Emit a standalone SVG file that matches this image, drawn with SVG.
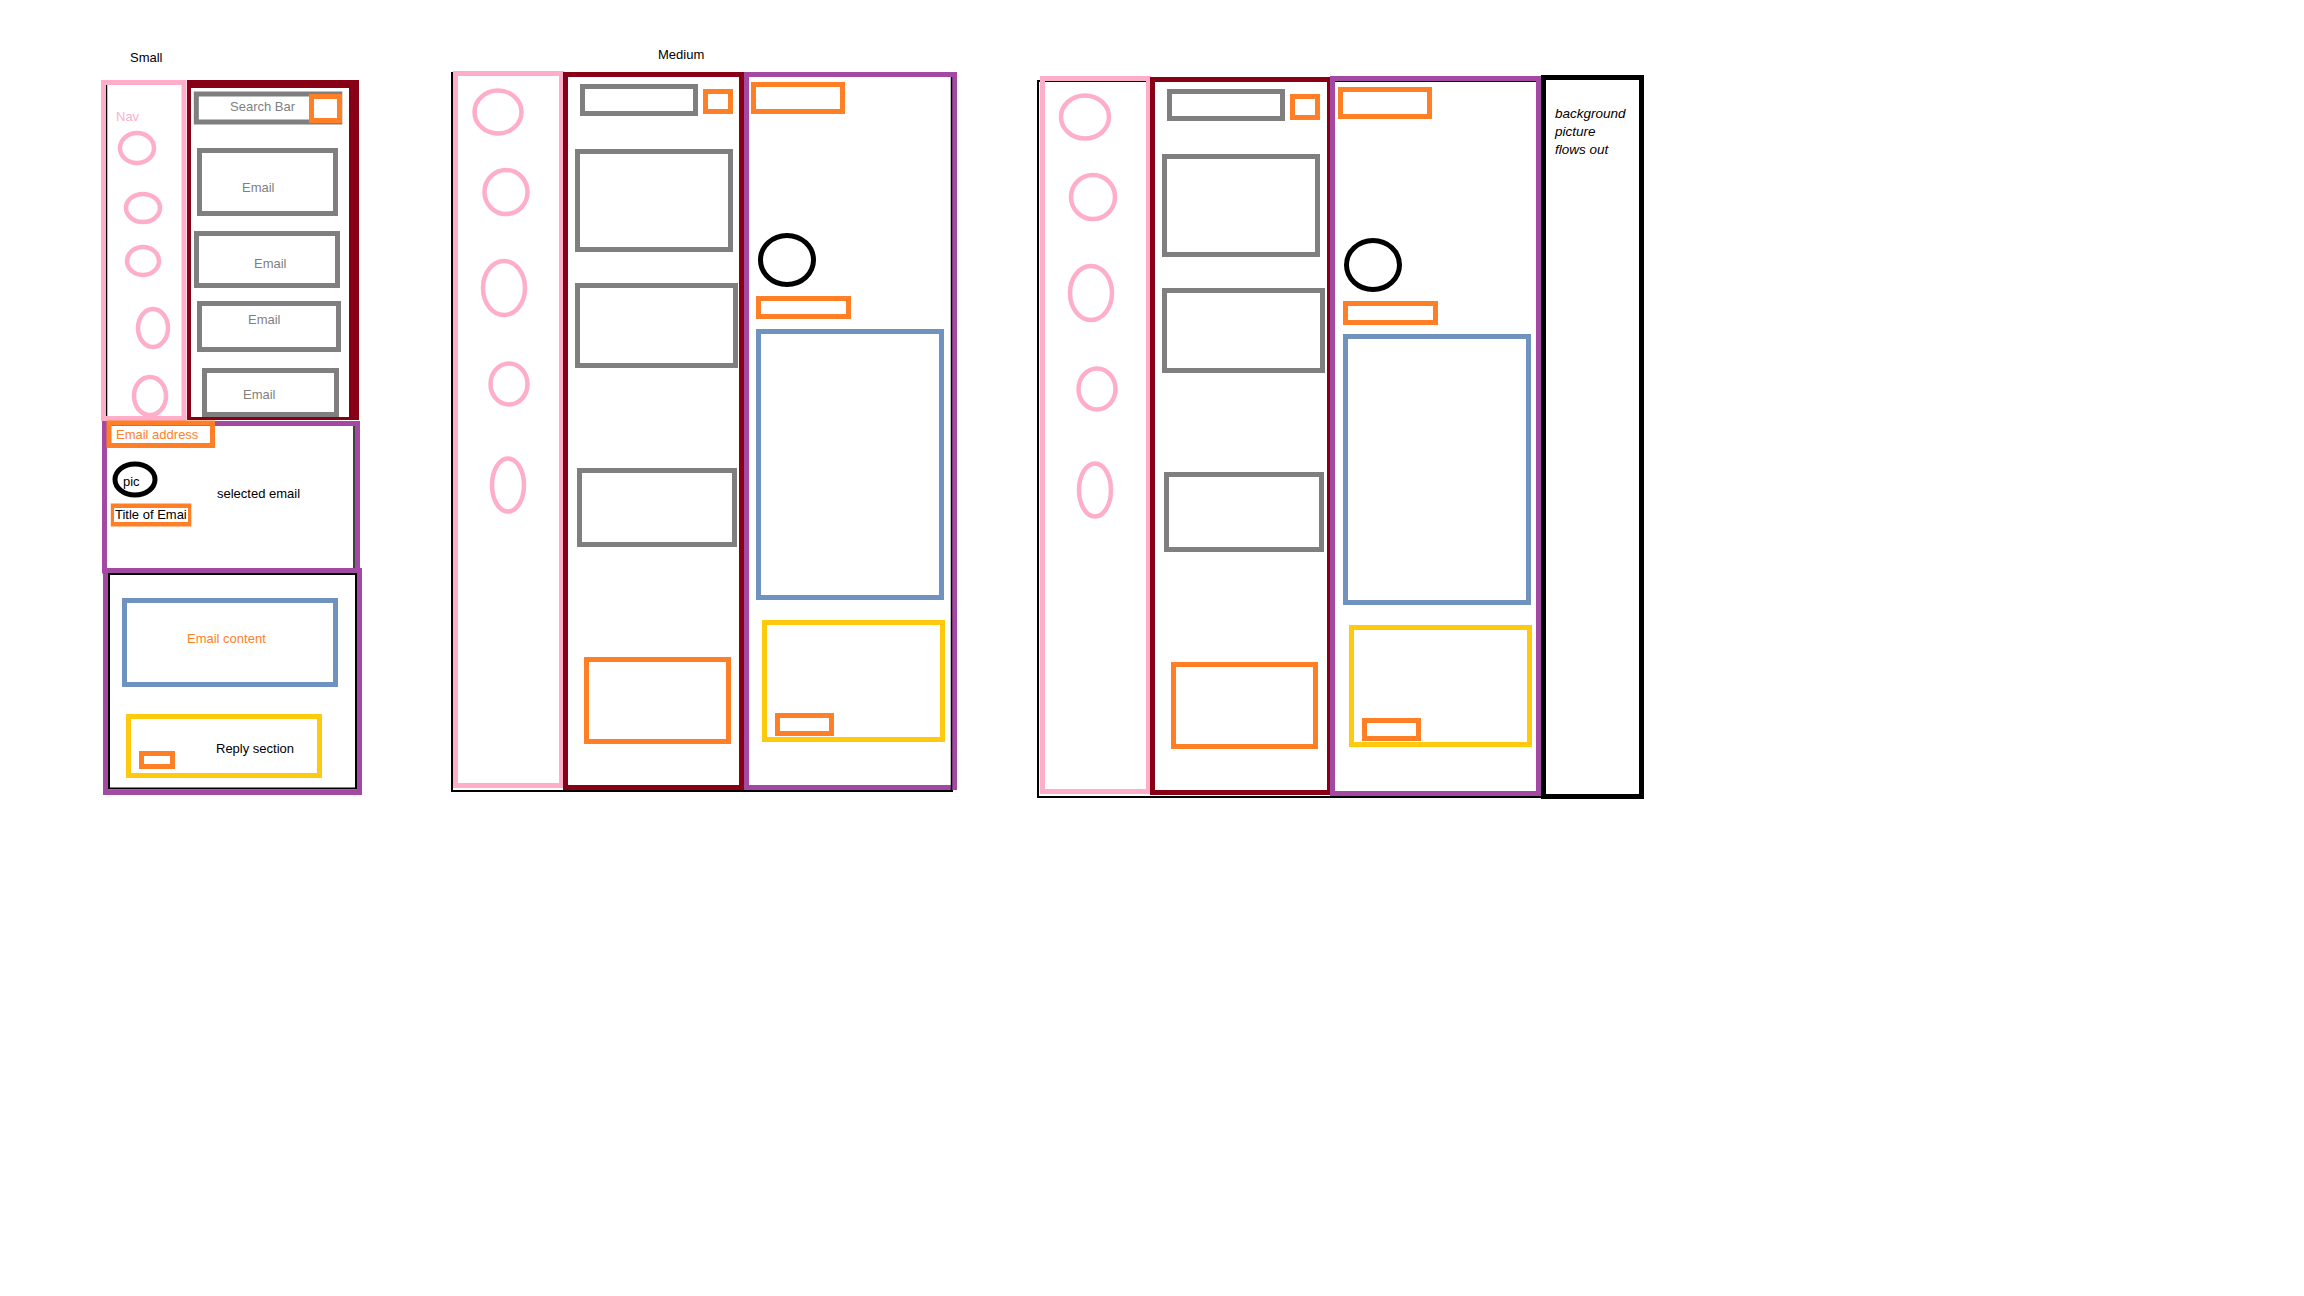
<svg xmlns="http://www.w3.org/2000/svg" width="2304" height="1296" viewBox="0 0 2304 1296">
<style>
text{font-family:"Liberation Sans",Arial,sans-serif;font-size:13px}
.pk{fill:none;stroke:#ffaec9;stroke-width:5}
.dr{fill:none;stroke:#880015;stroke-width:5}
.gy{fill:none;stroke:#7f7f7f;stroke-width:5}
.or{fill:none;stroke:#ff7f27;stroke-width:5}
.pu{fill:none;stroke:#a349a4;stroke-width:5}
.bl{fill:none;stroke:#7092be;stroke-width:5}
.ye{fill:none;stroke:#ffc90e;stroke-width:5}
.bk{fill:none;stroke:#000;stroke-width:5}
.bkt{fill:none;stroke:#000;stroke-width:2}
.cp{fill:none;stroke:#ffaec9;stroke-width:4.5}
.tg{fill:#7f7f7f}
.to{fill:#ff7f27}
.tk{fill:#000}
.it{font-style:italic;font-size:13.5px}
</style>
<rect width="2304" height="1296" fill="#fff"/>

<g id="small">
  <text id="small-title" x="130" y="62" class="tk">Small</text>
  <g id="small-nav">
    <line x1="106.5" y1="85" x2="106.5" y2="420" stroke="#000" stroke-width="1.5"/>
    <rect class="pk" x="103.5" y="82.5" width="80.5" height="336"/>
    <text x="116" y="121" fill="#ffaec9">Nav</text>
    <ellipse class="cp" cx="137" cy="148" rx="17" ry="15"/>
    <ellipse class="cp" cx="143" cy="208" rx="17" ry="14"/>
    <ellipse class="cp" cx="143" cy="261" rx="16" ry="14"/>
    <ellipse class="cp" cx="153" cy="328" rx="15" ry="19"/>
    <ellipse class="cp" cx="150" cy="396" rx="16" ry="19"/>
  </g>
  <g id="small-list">
    <path d="M187 80H359V420H187Z M191 88V417H349V88Z" fill="#880015" fill-rule="evenodd"/>
    <rect class="gy" x="196.3" y="94" width="143.5" height="28" stroke-width="4.5"/>
    <text x="230" y="111" class="tg">Search Bar</text>
    <rect class="or" x="311.5" y="96.5" width="28" height="24"/>
    <rect class="gy" x="199.5" y="150.5" width="136" height="63"/>
    <text x="242" y="192" class="tg">Email</text>
    <rect class="gy" x="196.5" y="233.5" width="141" height="52"/>
    <text x="254" y="268" class="tg">Email</text>
    <rect class="gy" x="199.5" y="303.5" width="139" height="46"/>
    <text x="248" y="324" class="tg">Email</text>
    <rect class="gy" x="204.5" y="370.5" width="132" height="44"/>
    <text x="243" y="399" class="tg">Email</text>
  </g>
  <g id="small-selected">
    <rect class="pu" x="104.5" y="423.5" width="253" height="147.5"/>
    <line x1="354" y1="426" x2="354" y2="568" stroke="#000" stroke-width="1.5"/>
    <rect class="or" x="109" y="423" width="103.5" height="22.5" stroke-width="4.5"/>
    <text x="116" y="439" class="to">Email address</text>
    <ellipse class="bk" cx="135" cy="479.5" rx="20" ry="15.5" stroke-width="4"/>
    <text x="123" y="486" class="tk">pic</text>
    <rect class="or" x="113.3" y="506" width="75.5" height="18" stroke-width="4.5"/>
    <rect x="114" y="508" width="74" height="14" fill="#fff"/>
    <text x="115" y="519" class="tk">Title of Emai</text>
    <text x="217" y="498" class="tk">selected email</text>
  </g>
  <g id="small-content">
    <rect class="pu" x="105.5" y="570.5" width="254" height="222"/>
    <rect class="bkt" x="109" y="574" width="247" height="214.5" stroke-width="2.5"/>
    <rect class="bl" x="124.5" y="600.5" width="211" height="84"/>
    <text x="187" y="643" class="to">Email content</text>
    <rect class="ye" x="128.5" y="716.5" width="191" height="59"/>
    <text x="216" y="753" class="tk">Reply section</text>
    <rect class="or" x="141.5" y="753.5" width="31" height="13"/>
  </g>
</g>

<g id="medium">
  <text id="medium-title" x="658" y="59" class="tk" font-size="14">Medium</text>
  <rect class="bkt" x="452" y="73" width="500" height="718"/>
  <g id="medium-nav">
    <rect class="pk" x="455.5" y="73.5" width="106" height="712"/>
    <ellipse class="cp" cx="498" cy="112" rx="23.5" ry="21.5"/>
    <ellipse class="cp" cx="506" cy="192" rx="21.5" ry="22"/>
    <ellipse class="cp" cx="504" cy="288" rx="21" ry="27"/>
    <ellipse class="cp" cx="509" cy="384" rx="18.5" ry="20.5"/>
    <ellipse class="cp" cx="508" cy="485" rx="16" ry="26.5"/>
  </g>
  <g id="medium-list">
    <rect class="dr" x="565.5" y="74.5" width="176" height="713" stroke-width="5.5"/>
    <rect class="gy" x="582.5" y="86.5" width="113" height="27"/>
    <rect class="or" x="705.5" y="91.5" width="25" height="20"/>
    <rect class="gy" x="577.5" y="151.5" width="153" height="98"/>
    <rect class="gy" x="577.5" y="285.5" width="158" height="80"/>
    <rect class="gy" x="579.5" y="470.5" width="155" height="74"/>
    <rect class="or" x="586.5" y="659.5" width="142" height="82"/>
  </g>
  <g id="medium-detail">
    <rect class="pu" x="746.5" y="74.5" width="208" height="713"/>
    <line x1="951.5" y1="77" x2="951.5" y2="790" stroke="#000" stroke-width="1.5"/>
    <rect class="or" x="753.5" y="84.5" width="89" height="27"/>
    <ellipse class="bk" cx="787" cy="260" rx="26.5" ry="24.5" stroke-width="4.5"/>
    <rect class="or" x="758.5" y="298.5" width="90" height="18"/>
    <rect class="bl" x="758.5" y="331.5" width="183" height="266"/>
    <rect class="ye" x="764.5" y="622.5" width="178" height="117"/>
    <rect class="or" x="777.5" y="715.5" width="54" height="18"/>
  </g>
</g>

<g id="large">
  <rect class="bkt" x="1038" y="81" width="502" height="716" stroke-width="2.5"/>
  <g id="large-nav">
    <rect class="pk" x="1042.5" y="78.5" width="106" height="713"/>
    <ellipse class="cp" cx="1085" cy="117" rx="24" ry="21.5"/>
    <ellipse class="cp" cx="1093" cy="197" rx="22" ry="22"/>
    <ellipse class="cp" cx="1091" cy="293" rx="21" ry="27"/>
    <ellipse class="cp" cx="1097" cy="389" rx="18.5" ry="20.5"/>
    <ellipse class="cp" cx="1095" cy="490" rx="16" ry="26.5"/>
  </g>
  <g id="large-list">
    <rect class="dr" x="1152.5" y="79.5" width="177" height="713"/>
    <rect class="gy" x="1169.5" y="91.5" width="113" height="27"/>
    <rect class="or" x="1292.5" y="96.5" width="25" height="21"/>
    <rect class="gy" x="1164.5" y="156.5" width="153" height="98"/>
    <rect class="gy" x="1164.5" y="290.5" width="158" height="80"/>
    <rect class="gy" x="1166.5" y="474.5" width="155" height="75"/>
    <rect class="or" x="1173.5" y="664.5" width="142" height="82"/>
  </g>
  <g id="large-detail">
    <rect class="pu" x="1332.5" y="78.5" width="206" height="715"/>
    <rect class="or" x="1340.5" y="89.5" width="89" height="27"/>
    <ellipse class="bk" cx="1373" cy="265" rx="26.5" ry="24.5" stroke-width="4.5"/>
    <rect class="or" x="1345.5" y="303.5" width="90" height="19"/>
    <rect class="bl" x="1345.5" y="336.5" width="183" height="266"/>
    <rect class="ye" x="1351.5" y="627.5" width="178" height="117"/>
    <rect class="or" x="1364.5" y="720.5" width="54" height="18"/>
  </g>
  <g id="large-background">
    <rect class="bk" x="1543.5" y="77.5" width="98" height="719"/>
    <text class="tk it" x="1555" y="118">background</text>
    <text class="tk it" x="1555" y="136">picture</text>
    <text class="tk it" x="1555" y="154">flows out</text>
  </g>
</g>

<g id="connectors"/>
</svg>
